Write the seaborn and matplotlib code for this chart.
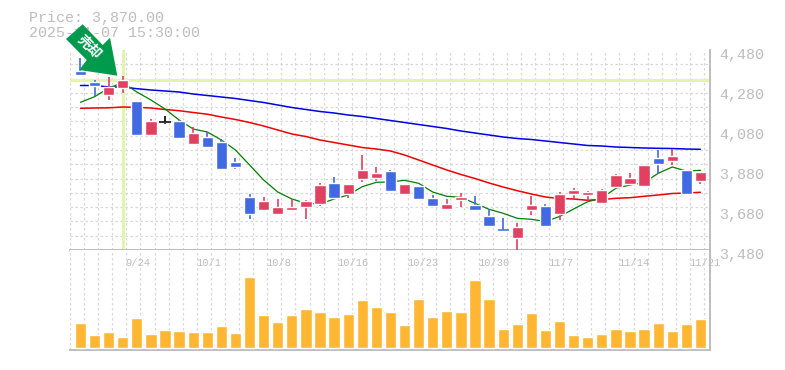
# -*- coding: utf-8 -*-
import numpy as np
import pandas as pd
import matplotlib
matplotlib.use('Agg')
import matplotlib.pyplot as plt
import matplotlib.transforms as mtrans
from matplotlib.patches import Polygon
import seaborn as sns

# Daily prices, one entry per trading day
opens = [4375, 4320, 4255, 4290, 4225, 4055, 4118, 4125, 4010, 4045, 4020, 3920, 3745, 3680, 3660,
         3680, 3695, 3710, 3815, 3760, 3835, 3840, 3875, 3760, 3800, 3740, 3685, 3730, 3705, 3650,
         3582, 3540, 3680, 3700, 3660, 3760, 3755, 3715, 3795, 3810, 3800, 3940, 3925, 3880, 3825]
highs = [4440, 4330, 4345, 4350, 4225, 4135, 4150, 4130, 4095, 4070, 4035, 3940, 3760, 3745, 3735,
         3735, 3730, 3815, 3845, 3810, 3955, 3895, 3880, 3810, 3800, 3755, 3735, 3765, 3750, 3685,
         3640, 3615, 3750, 3710, 3770, 3790, 3775, 3785, 3860, 3865, 3905, 3980, 3985, 3880, 3870]
lows = [4355, 4250, 4230, 4265, 4055, 4055, 4110, 4040, 4010, 3995, 3885, 3885, 3635, 3675, 3660,
        3680, 3635, 3700, 3740, 3740, 3820, 3825, 3770, 3755, 3730, 3695, 3680, 3695, 3675, 3600,
        3575, 3480, 3655, 3600, 3630, 3740, 3725, 3710, 3795, 3800, 3800, 3860, 3905, 3760, 3810]
closes = [4355, 4300, 4295, 4330, 4055, 4125, 4118, 4040, 4065, 3995, 3885, 3895, 3660, 3725, 3695,
          3695, 3725, 3805, 3740, 3810, 3880, 3865, 3775, 3810, 3735, 3700, 3710, 3745, 3680, 3600,
          3578, 3595, 3705, 3600, 3760, 3780, 3770, 3780, 3855, 3840, 3905, 3910, 3950, 3760, 3870]

# Moving averages
ma_short = [4218.5, 4246.5, 4290, 4316.5, 4270, 4230, 4185, 4130, 4085, 4070, 4030, 3980, 3905, 3830, 3770,
            3735, 3713.5, 3710, 3735, 3755, 3796.5, 3818.5, 3820, 3828.5, 3813.5, 3770, 3748.5, 3743.5, 3713.5, 3683.5,
            3663.5, 3638.5, 3633.5, 3622.5, 3647.5, 3685, 3721.5, 3740, 3788.5, 3805, 3816.5, 3863.5, 3895, 3875, 3878.5]
ma_mid = [4188.5, 4190, 4191, 4195, 4193.5, 4190, 4182.5, 4176.5, 4167.5, 4159, 4145, 4132.5, 4117.5, 4100, 4080,
          4060, 4047.5, 4030, 4017.5, 4005, 3992.5, 3985, 3975, 3955, 3930, 3905, 3880, 3857.5, 3837.5, 3815,
          3795, 3776.5, 3760, 3745, 3737.5, 3735, 3728.5, 3732.5, 3738.5, 3741.5, 3748.5, 3755, 3762.5, 3765, 3768.5]
ma_long = [4302.5, 4302.5, 4295, 4295, 4286.5, 4280, 4275, 4270, 4260, 4252.5, 4245, 4237.5, 4227.5, 4217.5, 4205,
           4192.5, 4182.5, 4172.5, 4165, 4155, 4147.5, 4137.5, 4127.5, 4117.5, 4107.5, 4097.5, 4087.5, 4075, 4065, 4055,
           4045, 4037.5, 4032.5, 4025, 4017.5, 4010, 4002.5, 4000, 3995, 3992.5, 3990, 3988.5, 3987.5, 3985, 3983.5]

volumes = [25, 13, 16, 11, 30, 14, 18, 17, 16, 16, 22, 15, 71, 33, 26,
           33, 39, 36, 31, 34, 48, 41, 36, 23, 49, 31, 37, 36, 68, 49,
           19, 24, 35, 18, 27, 13, 11, 14, 19, 17, 19, 25, 17, 24, 29]

price_ticks = [3480, 3680, 3880, 4080, 4280, 4480]
price_labels = ['3,480', '3,680', '3,880', '4,080', '4,280', '4,480']
date_positions = [3, 8, 13, 18, 23, 28, 33, 38, 43]
date_labels = ['9/24', '10/1', '10/8', '10/16', '10/23', '10/30', '11/7', '11/14', '11/21']
cross_day = 3
cross_price = 4330
header_lines = ['Price: 3,870.00', '2025-11-07 15:30:00']
marker_text = '売却'

UP = '#e24060'
DOWN = '#4169e1'
GRAY = '#bdbdbd'
GRID = '#d8d8d8'
CROSS = '#e3f5a9'
MONO = 'Liberation Mono'
W, H = 785, 370

sns.set_style('white')
plt.rcParams['font.family'] = ['Liberation Mono', 'DejaVu Sans']

df = pd.DataFrame({'day': np.arange(len(opens)), 'open': opens, 'high': highs, 'low': lows,
                   'close': closes, 'short': ma_short, 'mid': ma_mid, 'long': ma_long, 'volume': volumes})

fig = plt.figure(figsize=(W / 100, H / 100), dpi=100)
ax = fig.add_axes([70 / W, 120 / H, 640 / W, 200 / H])
ax_vol = fig.add_axes([70 / W, 20 / H, 640 / W, 100 / H])

# Moving averages sit under the candles
sns.lineplot(data=df, x='day', y='long', color='#0000e6', lw=1.1, ax=ax, zorder=3, errorbar=None)
sns.lineplot(data=df, x='day', y='mid', color='#f00000', lw=1.1, ax=ax, zorder=3, errorbar=None)
sns.lineplot(data=df, x='day', y='short', color='#008000', lw=0.9, ax=ax, zorder=3, errorbar=None)

# Candles
colors = [UP if c > o else DOWN if c < o else 'black' for o, c in zip(opens, closes)]
ax.vlines(df['day'], df['low'], df['high'], colors=colors, lw=1.2, zorder=4)
tops = df[['open', 'close']].max(axis=1)
bottoms = df[['open', 'close']].min(axis=1)
ax.bar(df['day'], tops - bottoms, bottom=bottoms, width=0.8, color=colors, zorder=5)
for day, o, c, col in zip(df['day'], opens, closes, colors):
    if abs(o - c) < 5:  # dojis still show a thin body
        ax.hlines((o + c) / 2, day - 0.4, day + 0.4, colors=col, lw=1.1, zorder=5)

# Crosshair
ax.axhline(cross_price, color=CROSS, lw=2.2, zorder=2)
ax.axvline(cross_day, color=CROSS, lw=2.2, zorder=2)

# Volume
sns.barplot(data=df, x='day', y='volume', native_scale=True, color='#ffb733', saturation=1,
            width=0.8, ax=ax_vol, zorder=3)

slots = np.arange(len(opens) + 1) - 0.745
for a in (ax, ax_vol):
    a.set_xlim(-0.745, 44.68)
    a.set_xlabel('')
    a.set_ylabel('')
    a.set_xticks([])
    a.set_xticks(slots, minor=True)
    a.tick_params(which='both', length=0, labelbottom=False, labelleft=False)
    a.grid(False)
    a.grid(True, which='minor', axis='x', color=GRID, lw=0.9, linestyle=(0, (2, 2)))
    a.set_axisbelow(True)
    for side in ('left', 'top'):
        a.spines[side].set_visible(False)
    for side in ('right', 'bottom'):
        a.spines[side].set_visible(True)
        a.spines[side].set_color(GRAY)
        a.spines[side].set_linewidth(1.4)

ax.set_ylim(3480, 4480)
ax.set_yticks(np.linspace(3480, 4480, 15), minor=True)
ax.grid(True, which='minor', axis='y', color=GRID, lw=0.9, linestyle=(0, (2, 2)))
ax_vol.set_ylim(-2, 98)
ax_vol.set_yticks([])

# Price labels on the right, a little below their level
ax.yaxis.tick_right()
ax.set_yticks(price_ticks, labels=price_labels)
ax.tick_params(axis='y', which='major', length=0, pad=6.5, labelright=True, labelsize=10.8, labelcolor=GRAY)
shift = mtrans.ScaledTranslation(0, -3 / 100, fig.dpi_scale_trans)
for label in ax.get_yticklabels():
    label.set_family(MONO)
    label.set_transform(label.get_transform() + shift)

# Date labels start just right of their day
for pos, text in zip(date_positions, date_labels):
    ax_vol.annotate(text, (pos, 1), xycoords=('data', 'axes fraction'), xytext=(2.0, -9.0),
                    textcoords='offset points', ha='left', va='center', color=GRAY, fontsize=7.5,
                    family=MONO, zorder=6)

fig.text(29 / W, 1 - 18 / H, header_lines[0], color=GRAY, fontsize=10.8, family=MONO, va='center')
fig.text(29 / W, 1 - 33 / H, header_lines[1], color=GRAY, fontsize=10.8, family=MONO, va='center')

# Green arrow flag, drawn in pixel space on top of everything
arrow_px = [(82.7, 24.3), (66, 39), (86.7, 60), (79.3, 70), (117.3, 75.7), (110, 37.7), (102.7, 45)]
arrow = Polygon([(x, H - y) for x, y in arrow_px], closed=True, facecolor='#009a4c', edgecolor='none',
                transform=mtrans.IdentityTransform(), zorder=10)
fig.add_artist(arrow)
fig.text(88.7 / W, 1 - 47 / H, marker_text, color='white', fontsize=10, fontweight='bold', rotation=-45,
         rotation_mode='anchor', ha='center', va='center', family=['Noto Sans CJK JP', 'DejaVu Sans'], zorder=11)

fig.savefig('out.png', dpi=100)
plt.close(fig)
